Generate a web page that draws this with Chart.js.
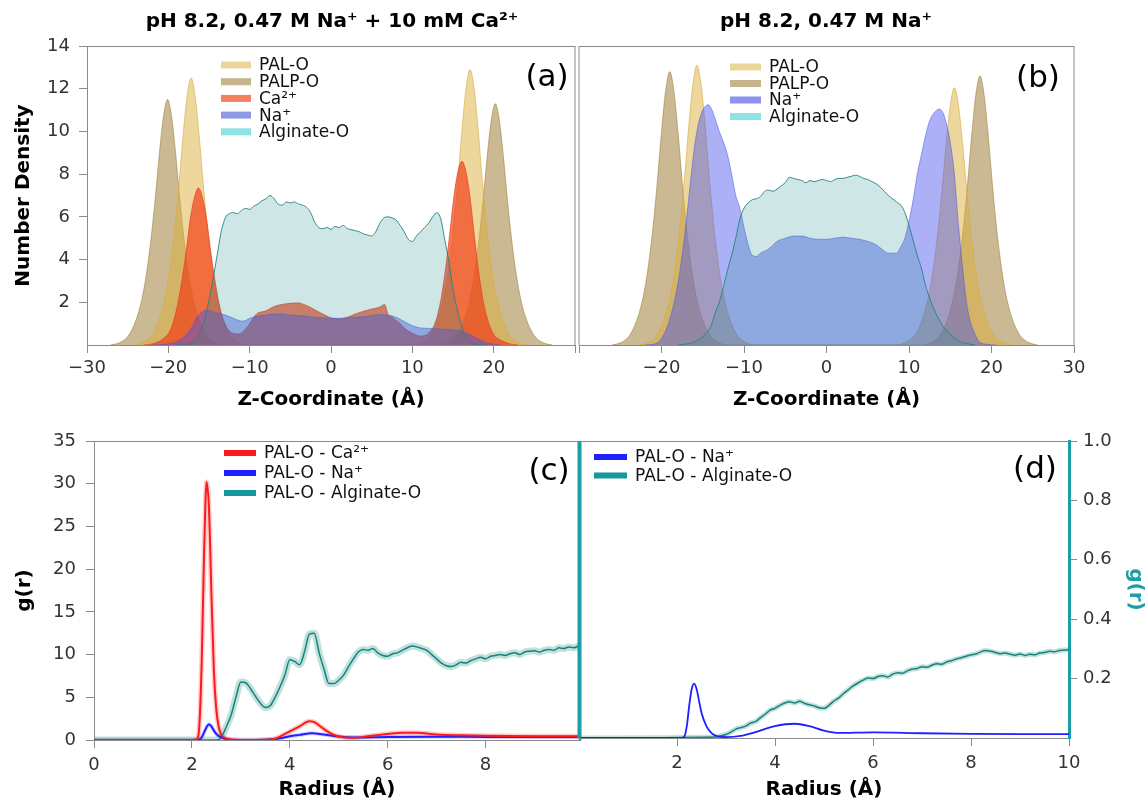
<!DOCTYPE html>
<html>
<head>
<meta charset="utf-8">
<script src="https://cdn.jsdelivr.net/npm/chart.js@4.4.0/dist/chart.umd.min.js"></script>
<style>
  body { margin: 0; background: #fff; }
  #wrap { position: relative; width: 1148px; height: 804px; overflow: hidden; }
  canvas { position: absolute; }
</style>
</head>
<body>
<div id="wrap">
  <canvas id="panelA" width="580" height="420" style="left:0px;top:0px"></canvas>
  <canvas id="panelB" width="578" height="420" style="left:570px;top:0px"></canvas>
  <canvas id="panelC" width="590" height="384" style="left:0px;top:420px"></canvas>
  <canvas id="panelD" width="578" height="384" style="left:570px;top:420px"></canvas>
</div>
<script>
// ---- panel (a): density profiles, 0.47 M Na+ + 10 mM Ca2+ ----
const seriesA = ['PAL-O', 'PALP-O', 'Ca²⁺', 'Na⁺', 'Alginate-O'];

const zPalOA = [-24.2,-23.2,-22.2,-21.7,-21.2,-20.7,-20.2,-19.7,-19.2,-18.7,-18.2,-17.7,-17.2,-16.7,-16.2,-15.7,-15.2,-14.7,-14.2,-13.7,-13.2,-12.7,-12.2,-11.2,-10.2,
                10.1,11.1,12.1,12.6,13.1,13.6,14.1,14.6,15.1,15.6,16.1,16.6,17.1,17.6,18.1,18.6,19.1,19.6,20.1,20.6,21.1,21.6,22.1,23.1,24.1];
const palOA = [0,0.1,0.38,0.69,1.13,1.75,2.63,3.88,5.5,7.5,9.75,11.63,12.5,11.63,9.75,7.5,5.5,3.88,2.63,1.75,1.13,0.69,0.38,0.1,0,
               0,0.1,0.39,0.71,1.16,1.81,2.71,4.0,5.68,7.74,10.06,12.0,12.9,12.0,10.06,7.74,5.68,4.0,2.71,1.81,1.16,0.71,0.39,0.1,0];

const zPalpOA = [-27.1,-26.1,-25.1,-24.6,-24.1,-23.6,-23.1,-22.6,-22.1,-21.6,-21.1,-20.6,-20.1,-19.6,-19.1,-18.6,-18.1,-17.6,-17.1,-16.6,-16.1,-15.6,-15.1,-14.1,-13.1,
                 13.2,14.2,15.2,15.7,16.2,16.7,17.2,17.7,18.2,18.7,19.2,19.7,20.2,20.7,21.2,21.7,22.2,22.7,23.2,23.7,24.2,24.7,25.2,26.2,27.2];
const palpOA = [0,0.09,0.35,0.63,1.04,1.61,2.42,3.57,5.06,6.9,8.97,10.7,11.5,10.7,8.97,6.9,5.06,3.57,2.42,1.61,1.04,0.63,0.35,0.09,0,
                0,0.09,0.34,0.62,1.02,1.58,2.37,3.5,4.97,6.78,8.81,10.51,11.3,10.51,8.81,6.78,4.97,3.5,2.37,1.58,1.02,0.62,0.34,0.09,0];

const zCaA = [-23,-22,-21,-20.3,-19.8,-19.3,-18.8,-18.3,-17.8,-17.3,-16.8,-16.3,-15.8,-15.3,-14.8,-14.3,-13.8,-13.3,-12.8,-12.3,-11.8,-11.3,-10.5,-10,-9.5,-9,-8.5,-8,-7,-6,-5,-4,-3.5,-3,-2,-1,0,1,2,3,4,5,6,6.6,7,7.5,8,8.5,9,10,11,11.6,12.1,12.6,13.1,13.6,14.1,14.6,15.1,15.6,16.1,16.6,17.1,17.6,18.1,18.6,19.1,19.6,20.1,21,22,23];
const caA = [0,0.05,0.2,0.4,0.66,1.2,2.0,3.1,4.4,5.9,6.9,7.35,6.9,5.9,4.4,3.1,2.0,1.25,0.8,0.6,0.52,0.52,0.75,1.0,1.3,1.5,1.55,1.6,1.8,1.9,1.95,1.97,1.92,1.85,1.65,1.45,1.27,1.22,1.3,1.45,1.58,1.68,1.78,1.9,1.45,1.3,1.15,1.0,0.8,0.55,0.42,0.45,0.6,0.85,1.4,2.3,3.6,5.2,6.9,8.1,8.6,8.1,6.9,5.2,3.6,2.3,1.4,0.8,0.45,0.2,0.05,0];

const zNaA = [-22,-21,-20,-19,-18,-17,-16.5,-16,-15.3,-14.5,-14,-13,-12,-11,-10.5,-10,-9,-8,-7,-6,-5,-4,-3,-2,-1,0,1,2,3,4,5,6,7,8,9,10,11,12,13,14,15,16,17,18,19,20,21];
const naA = [0,0.02,0.05,0.15,0.4,0.9,1.3,1.5,1.63,1.55,1.5,1.4,1.25,1.12,1.15,1.25,1.35,1.4,1.45,1.45,1.4,1.38,1.35,1.3,1.28,1.25,1.25,1.27,1.3,1.32,1.38,1.42,1.4,1.3,1.1,0.9,0.8,0.78,0.76,0.74,0.7,0.65,0.5,0.3,0.12,0.04,0];

const zAlgA = [-19,-18,-17,-16.5,-16,-15.5,-15,-14.5,-14,-13.5,-13,-12.5,-12,-11.5,-11,-10.5,-10,-9.5,-9,-8.5,-8,-7.5,-7,-6.5,-6,-5.5,-5,-4.5,-4,-3.5,-3,-2.5,-2,-1.5,-1,-0.5,0,0.5,1,1.5,2,2.5,3,3.5,4,4.5,5,5.5,6,6.5,7,7.5,8,8.5,9,9.5,10,10.5,11,11.5,12,12.5,13,13.5,14,14.5,15,15.5,16,16.5,17,17.5,18,19];
const algA = [0,0.03,0.12,0.3,0.65,1.25,2.1,3.1,4.2,5.3,5.95,6.15,6.2,6.15,6.3,6.4,6.35,6.5,6.6,6.75,6.85,7.0,6.85,6.6,6.55,6.7,6.65,6.7,6.6,6.55,6.45,6.2,5.75,5.5,5.45,5.5,5.42,5.55,5.5,5.6,5.45,5.4,5.35,5.3,5.2,5.15,5.1,5.3,5.7,5.95,6.0,5.95,5.85,5.6,5.3,4.95,4.85,5.1,5.3,5.5,5.7,6.0,6.2,5.9,4.9,3.9,2.6,1.7,0.95,0.45,0.2,0.1,0.03,0];

// ---- panel (b): density profiles, 0.47 M Na+ ----
const seriesB = ['PAL-O', 'PALP-O', 'Na⁺', 'Alginate-O'];

const zPalOB = [-22.7,-21.7,-20.7,-20.2,-19.7,-19.2,-18.7,-18.2,-17.7,-17.2,-16.7,-16.2,-15.7,-15.2,-14.7,-14.2,-13.7,-13.2,-12.7,-12.2,-11.7,-11.2,-10.7,-9.7,-8.7,
                8.5,9.5,10.5,11,11.5,12,12.5,13,13.5,14,14.5,15,15.5,16,16.5,17,17.5,18,18.5,19,19.5,20,20.5,21.5,22.5];
const palOB = [0,0.1,0.39,0.72,1.18,1.83,2.75,4.06,5.76,7.86,10.22,12.18,13.1,12.18,10.22,7.86,5.76,4.06,2.75,1.83,1.18,0.72,0.39,0.1,0,
               0,0.1,0.36,0.66,1.08,1.69,2.53,3.74,5.3,7.23,9.4,11.21,12.05,11.21,9.4,7.23,5.3,3.74,2.53,1.69,1.08,0.66,0.36,0.1,0];

const zPalpOB = [-26,-25,-24,-23.5,-23,-22.5,-22,-21.5,-21,-20.5,-20,-19.5,-19,-18.5,-18,-17.5,-17,-16.5,-16,-15.5,-15,-14.5,-14,-13,-12,
                 11.6,12.6,13.6,14.1,14.6,15.1,15.6,16.1,16.6,17.1,17.6,18.1,18.6,19.1,19.6,20.1,20.6,21.1,21.6,22.1,22.6,23.1,23.6,24.6,25.6];
const palpOB = [0,0.1,0.38,0.7,1.15,1.79,2.69,3.97,5.63,7.68,9.98,11.9,12.8,11.9,9.98,7.68,5.63,3.97,2.69,1.79,1.15,0.7,0.38,0.1,0,
                0,0.1,0.38,0.69,1.13,1.76,2.65,3.91,5.54,7.56,9.83,11.72,12.6,11.72,9.83,7.56,5.54,3.91,2.65,1.76,1.13,0.69,0.38,0.1,0];

const zNaB = [-22,-21,-20,-19,-18,-17.5,-17,-16.5,-16,-15.5,-15,-14.3,-14,-13.5,-13,-12.5,-12,-11.5,-11,-10.5,-10,-9.5,-9,-8.5,-8,-7,-6,-5,-4,-3,-2,-1,0,1,2,3,4,5,6,7,7.5,8,8.5,9,9.5,10,10.5,11,11.5,12,12.5,13,13.7,14.2,14.7,15,15.5,16,16.5,17,17.5,18,18.5,19.5,20.5];
const naB = [0,0.03,0.3,1.2,2.9,4.2,5.8,7.6,9.3,10.4,11.0,11.25,11.1,10.6,10.0,9.5,8.9,8.0,7.0,6.4,5.5,4.7,4.2,4.15,4.3,4.5,4.85,5.0,5.1,5.1,5.0,4.95,4.95,5.0,5.05,5.0,4.95,4.85,4.7,4.4,4.3,4.3,4.3,4.6,5.0,5.8,6.8,8.0,8.9,9.8,10.5,10.85,11.05,10.8,10.1,9.5,8.0,5.6,3.6,1.9,1.0,0.5,0.15,0.03,0];

const zAlgB = [-18,-17,-16,-15,-14,-13.5,-13,-12.5,-12,-11.5,-11,-10.5,-10,-9.5,-9,-8.5,-8,-7.5,-7,-6.5,-6,-5.5,-5,-4.5,-4,-3.5,-3,-2.5,-2,-1.5,-1,-0.5,0,0.5,1,1.5,2,2.5,3,3.5,4,4.5,5,5.5,6,6.5,7,7.5,8,8.5,9,9.5,10,10.5,11,11.5,12,12.5,13,13.5,14,14.5,15,16,17,18];
const algB = [0,0.05,0.15,0.4,0.9,1.5,2.0,2.7,3.5,4.2,5.0,5.9,6.4,6.65,6.8,6.85,6.95,7.2,7.25,7.2,7.3,7.45,7.6,7.85,7.8,7.75,7.7,7.6,7.7,7.65,7.7,7.75,7.7,7.65,7.75,7.8,7.8,7.85,7.9,7.95,7.9,7.8,7.75,7.65,7.55,7.4,7.2,7.0,6.85,6.7,6.55,6.2,5.6,4.9,4.2,3.6,2.8,2.2,1.7,1.3,0.95,0.7,0.5,0.2,0.07,0];

// ---- panel (c): g(r) with Ca2+ ----
const seriesC = ['PAL-O - Ca²⁺', 'PAL-O - Na⁺', 'PAL-O - Alginate-O'];

const rCaC = [0,2.0,2.1,2.15,2.2,2.25,2.3,2.35,2.4,2.45,2.5,2.55,2.6,2.7,2.8,3.0,3.5,3.7,3.8,4.0,4.2,4.4,4.5,4.6,4.8,5.0,5.3,5.6,6.0,6.3,6.6,7.0,7.5,8.0,9.0,9.93];
const gCaC = [0,0,0.1,1.5,9,22,30.2,27,17,8,3.5,1.5,0.6,0.2,0.05,0,0.02,0.15,0.4,1.0,1.6,2.2,2.1,1.7,0.9,0.4,0.25,0.45,0.7,0.85,0.85,0.65,0.55,0.5,0.45,0.45];

const rNaC = [0,2.1,2.15,2.2,2.25,2.3,2.35,2.4,2.45,2.5,2.6,2.7,2.8,3.0,3.5,3.8,4.0,4.2,4.45,4.7,5.0,5.3,6.0,7.0,8.0,9.0,9.93];
const gNaC = [0,0,0.05,0.3,0.9,1.5,1.85,1.6,1.1,0.7,0.3,0.12,0.04,0,0.02,0.2,0.45,0.6,0.78,0.65,0.4,0.3,0.35,0.38,0.36,0.35,0.35];

const rAlgC = [0,2.5,2.6,2.7,2.8,2.9,3.0,3.1,3.2,3.3,3.4,3.5,3.6,3.7,3.8,3.9,4.0,4.1,4.2,4.3,4.4,4.5,4.6,4.7,4.8,4.9,5.0,5.1,5.2,5.3,5.4,5.5,5.6,5.7,5.8,5.9,6.0,6.1,6.2,6.3,6.4,6.5,6.6,6.7,6.8,6.9,7.0,7.1,7.2,7.3,7.4,7.5,7.6,7.7,7.8,7.9,8.0,8.1,8.2,8.3,8.4,8.5,8.6,8.7,8.8,8.9,9.0,9.1,9.2,9.3,9.4,9.5,9.6,9.7,9.8,9.93];
const gAlgC = [0,0,0.3,1.5,2.9,5.0,6.8,6.7,6.0,5.1,4.3,3.8,4.0,5.0,6.2,7.6,9.4,9.2,8.8,10.3,12.4,12.5,10.2,8.3,6.6,6.6,7.0,7.6,8.6,9.5,10.3,10.6,10.5,10.7,10.2,9.9,9.8,10.1,10.2,10.5,10.8,11.0,10.9,10.7,10.5,10.0,9.5,9.0,8.7,8.6,8.8,9.1,9.0,9.3,9.5,9.7,9.5,9.8,9.9,10.0,9.9,10.1,10.2,10.0,10.3,10.4,10.45,10.3,10.5,10.6,10.5,10.8,10.7,10.9,10.8,11.1];

// ---- panel (d): g(r) without Ca2+ (right axis) ----
const seriesD = ['PAL-O - Na⁺', 'PAL-O - Alginate-O'];

const rNaD = [0,2.1,2.15,2.2,2.25,2.3,2.35,2.4,2.45,2.5,2.6,2.7,2.8,3.0,3.3,3.6,4.0,4.4,4.7,5.0,5.3,6.0,7.0,8.0,9.0,10];
const gNaD = [0,0,0.005,0.04,0.11,0.165,0.183,0.165,0.125,0.085,0.04,0.017,0.007,0.003,0.007,0.02,0.04,0.048,0.04,0.025,0.017,0.019,0.016,0.014,0.013,0.013];

const rAlgD = [0,2.8,2.9,3.0,3.1,3.2,3.3,3.4,3.5,3.6,3.7,3.8,3.9,4.0,4.1,4.2,4.3,4.4,4.5,4.6,4.7,4.8,4.9,5.0,5.1,5.2,5.3,5.4,5.5,5.6,5.7,5.8,5.9,6.0,6.1,6.2,6.3,6.4,6.5,6.6,6.7,6.8,6.9,7.0,7.1,7.2,7.3,7.4,7.5,7.6,7.7,7.8,7.9,8.0,8.1,8.2,8.3,8.4,8.5,8.6,8.7,8.8,8.9,9.0,9.1,9.2,9.3,9.4,9.5,9.6,9.7,9.8,9.9,10.0];
const gAlgD = [0,0.003,0.008,0.012,0.02,0.03,0.035,0.04,0.05,0.055,0.068,0.08,0.094,0.1,0.11,0.118,0.122,0.118,0.124,0.117,0.112,0.108,0.102,0.1,0.11,0.124,0.135,0.15,0.163,0.176,0.186,0.195,0.202,0.2,0.207,0.21,0.205,0.215,0.22,0.218,0.226,0.232,0.234,0.24,0.238,0.245,0.25,0.248,0.256,0.26,0.266,0.27,0.275,0.28,0.283,0.29,0.295,0.292,0.288,0.284,0.286,0.282,0.279,0.283,0.278,0.282,0.28,0.286,0.288,0.292,0.29,0.295,0.296,0.298];

// ---- styling ----
const GREY = '#8a8a8a';
const TEAL = '#1a9ea8';
const INK = '#333333';
const tickFont = { family: 'DejaVu Sans', size: 18 };
const labelFont = { family: 'DejaVu Sans', size: 20, weight: 'bold' };
const keyFont = '17px "DejaVu Sans"';
const letterFont = '31px "DejaVu Sans"';
const headFont = 'bold 20px "DejaVu Sans"';

function pts(xs, ys) {
    return xs.map((x, i) => ({ x: x, y: ys[i] }));
}

function minus(v) {
    return v < 0 ? '\u2212' + Math.abs(v) : String(v);
}

// filled density profile
function area(label, xs, ys, fill, line, order) {
    return { label, data: pts(xs, ys), backgroundColor: fill, borderColor: line, borderWidth: 1,
             fill: 'origin', pointRadius: 0, cubicInterpolationMode: 'monotone', order };
}

// plain g(r) line
function curve(label, xs, ys, color, width, order) {
    return { label, data: pts(xs, ys), borderColor: color, borderWidth: width, fill: false,
             pointRadius: 0, cubicInterpolationMode: 'monotone', order };
}

function xAxis(min, max, step, hideLabels, hideMarks, height, tickPad, text, titlePad) {
    return {
        type: 'linear', min, max,
        ticks: { stepSize: step, includeBounds: false, autoSkip: false, maxRotation: 0, font: tickFont, color: INK,
                 padding: tickPad, callback: v => hideLabels.includes(v) ? '' : minus(v) },
        grid: { drawOnChartArea: false, tickLength: 8,
                color: c => (c.tick && hideMarks.includes(c.tick.value)) ? 'rgba(0,0,0,0)' : GREY },
        border: { color: GREY, width: 1 },
        title: { display: true, text, font: labelFont, color: '#000', padding: { top: 0, bottom: titlePad } },
        afterFit: s => { s.height = height; }
    };
}

// spines that Chart.js does not draw itself
function frame(sides) {
    return { id: 'frame', afterDatasetsDraw(chart) {
        const { ctx, chartArea: a } = chart;
        sides.forEach(([side, color, width]) => {
            ctx.save();
            ctx.strokeStyle = color;
            ctx.lineWidth = width;
            ctx.beginPath();
            if (side === 'top') { ctx.moveTo(a.left, a.top + 0.5); ctx.lineTo(a.right, a.top + 0.5); }
            if (side === 'right') { ctx.moveTo(a.right, a.top); ctx.lineTo(a.right, a.bottom); }
            if (side === 'left') { ctx.moveTo(a.left, a.top); ctx.lineTo(a.left, a.bottom); }
            ctx.stroke();
            ctx.restore();
        });
    }};
}

// legend drawn inside the plot, matplotlib style
function key(x, y, step, w, h, labels, colors) {
    return { id: 'key', afterDraw(chart) {
        const ctx = chart.ctx;
        ctx.save();
        ctx.font = keyFont;
        ctx.textBaseline = 'middle';
        labels.forEach((label, i) => {
            const yy = y + i * step;
            ctx.fillStyle = colors[i];
            ctx.fillRect(x, yy - h / 2, w, h);
            ctx.fillStyle = '#111';
            ctx.fillText(label, x + w + 8, yy + 1);
        });
        ctx.restore();
    }};
}

function notes(list) {
    return { id: 'notes', afterDraw(chart) {
        const ctx = chart.ctx;
        list.forEach(n => {
            ctx.save();
            ctx.font = n.font;
            ctx.fillStyle = n.color || '#000';
            ctx.textAlign = 'center';
            ctx.textBaseline = 'middle';
            ctx.fillText(n.text, n.x, n.y);
            ctx.restore();
        });
    }};
}

const common = { responsive: false, animation: false, devicePixelRatio: 1 };
const quiet = { legend: { display: false }, tooltip: { enabled: false } };

// colours of the density fills
const fillPalO = 'rgba(222,175,60,0.5)';
const fillPalpO = 'rgba(150,115,40,0.5)';
const fillCa = 'rgba(242,60,20,0.68)';
const fillNa = 'rgba(70,80,235,0.45)';
const fillAlg = 'rgba(30,140,140,0.22)';

// ---- (a) ----
new Chart(document.getElementById('panelA'), {
    type: 'line',
    data: { datasets: [
        area(seriesA[0], zPalOA, palOA, fillPalO, 'rgba(215,170,60,0.6)', 3),
        area(seriesA[1], zPalpOA, palpOA, fillPalpO, 'rgba(150,115,40,0.5)', 4),
        area(seriesA[2], zCaA, caA, fillCa, 'rgba(240,60,30,0.7)', 2),
        area(seriesA[3], zNaA, naA, fillNa, 'rgba(70,80,235,0.5)', 1),
        area(seriesA[4], zAlgA, algA, fillAlg, 'rgba(40,130,130,0.9)', 0)
    ]},
    options: Object.assign({}, common, {
        layout: { padding: { top: 46, right: 2, left: 0, bottom: 0 } },
        plugins: quiet,
        scales: {
            x: xAxis(-30, 30, 10, [30], [], 75, 5, 'Z-Coordinate (Å)', 8),
            y: {
                min: 0, max: 14,
                ticks: { stepSize: 2, font: tickFont, color: INK, padding: 9, callback: v => v === 0 ? '' : v },
                grid: { drawOnChartArea: false, tickLength: 8,
                        color: c => (c.tick && c.tick.value === 0) ? 'rgba(0,0,0,0)' : GREY },
                border: { color: GREY, width: 1 },
                title: { display: true, text: 'Number Density', font: labelFont, color: '#000', padding: { top: 12, bottom: 0 } },
                afterFit: s => { s.width = 87; }
            }
        }
    }),
    plugins: [
        frame([['top', GREY, 1], ['right', GREY, 1]]),
        key(221, 65, 16.7, 30, 7, seriesA, ['#edd49a', '#c6b48a', '#f4805f', '#8f98e6', '#8ee4e4']),
        notes([
            { text: 'pH 8.2, 0.47 M Na⁺ + 10 mM Ca²⁺', x: 332, y: 22, font: headFont },
            { text: '(a)', x: 547, y: 78, font: letterFont }
        ])
    ]
});

// ---- (b) ----
new Chart(document.getElementById('panelB'), {
    type: 'line',
    data: { datasets: [
        area(seriesB[0], zPalOB, palOB, fillPalO, 'rgba(215,170,60,0.6)', 2),
        area(seriesB[1], zPalpOB, palpOB, fillPalpO, 'rgba(150,115,40,0.5)', 3),
        area(seriesB[2], zNaB, naB, fillNa, 'rgba(70,80,235,0.5)', 1),
        area(seriesB[3], zAlgB, algB, fillAlg, 'rgba(40,130,130,0.9)', 0)
    ]},
    options: Object.assign({}, common, {
        layout: { padding: { top: 46, right: 74, left: 9, bottom: 0 } },
        plugins: quiet,
        scales: {
            x: xAxis(-30, 30, 10, [-30], [], 75, 5, 'Z-Coordinate (Å)', 8),
            y: { display: false, min: 0, max: 14 }
        }
    }),
    plugins: [
        frame([['top', GREY, 1], ['right', GREY, 1], ['left', GREY, 1]]),
        key(160, 67, 16.5, 31, 7, seriesB, ['#edd49a', '#c6b48a', '#8e92f2', '#8ee4e4']),
        notes([
            { text: 'pH 8.2, 0.47 M Na⁺', x: 256, y: 22, font: headFont },
            { text: '(b)', x: 468, y: 79, font: letterFont }
        ])
    ]
});

// ---- (c) ----
new Chart(document.getElementById('panelC'), {
    type: 'line',
    data: { datasets: [
        curve('band ' + seriesC[0], rCaC, gCaC, 'rgba(255,90,90,0.3)', 5, 5),
        curve('band ' + seriesC[1], rNaC, gNaC, 'rgba(90,90,255,0.25)', 4, 4),
        curve('band ' + seriesC[2], rAlgC, gAlgC, 'rgba(30,150,140,0.28)', 7, 3),
        curve(seriesC[2], rAlgC, gAlgC, '#1a8079', 1.5, 2),
        curve(seriesC[0], rCaC, gCaC, '#ff1a1a', 2, 0),
        curve(seriesC[1], rNaC, gNaC, '#1f1fff', 2, 1)
    ]},
    options: Object.assign({}, common, {
        layout: { padding: { top: 21, right: 10, left: 0, bottom: 0 } },
        plugins: quiet,
        scales: {
            x: xAxis(0, 9.93, 2, [], [], 64, 7, 'Radius (Å)', 2),
            y: {
                min: 0, max: 35,
                ticks: { stepSize: 5, font: tickFont, color: INK, padding: 10 },
                grid: { drawOnChartArea: false, tickLength: 8, color: GREY },
                border: { color: GREY, width: 1 },
                title: { display: true, text: 'g(r)', font: labelFont, color: '#000', padding: { top: 13, bottom: 0 } },
                afterFit: s => { s.width = 94; }
            }
        }
    }),
    plugins: [
        frame([['top', GREY, 1], ['right', TEAL, 3]]),
        key(224, 33, 20, 32, 6, seriesC, ['#ff1a1a', '#1f1fff', '#16979c']),
        notes([{ text: '(c)', x: 549, y: 52, font: letterFont }])
    ]
});

// ---- (d) ----
new Chart(document.getElementById('panelD'), {
    type: 'line',
    data: { datasets: [
        curve('band ' + seriesD[1], rAlgD, gAlgD, 'rgba(30,150,140,0.28)', 5, 3),
        curve(seriesD[1], rAlgD, gAlgD, '#1a8079', 1.5, 1),
        curve(seriesD[0], rNaD, gNaD, '#2020ff', 1.8, 0)
    ]},
    options: Object.assign({}, common, {
        layout: { padding: { top: 21, right: 0, left: 9, bottom: 0 } },
        plugins: quiet,
        scales: {
            x: xAxis(0, 10, 2, [0], [0], 66, 7, 'Radius (Å)', 2),
            y: {
                position: 'right', min: 0, max: 1,
                ticks: { stepSize: 0.2, font: tickFont, color: INK, padding: 6,
                         callback: v => v === 0 ? '' : v.toFixed(1) },
                grid: { drawOnChartArea: false, tickLength: 8,
                        color: c => (c.tick && c.tick.value === 0) ? 'rgba(0,0,0,0)' : GREY },
                border: { color: TEAL, width: 3 },
                title: { display: true, text: 'g(r)', font: labelFont, color: TEAL, padding: { top: 1, bottom: 0 } },
                afterFit: s => { s.width = 79; }
            }
        }
    }),
    plugins: [
        frame([['top', GREY, 1], ['left', TEAL, 3]]),
        key(24, 37, 18.5, 33, 6, seriesD, ['#1f1fff', '#16979c']),
        notes([{ text: '(d)', x: 465, y: 50, font: letterFont }])
    ]
});
</script>
</body>
</html>
